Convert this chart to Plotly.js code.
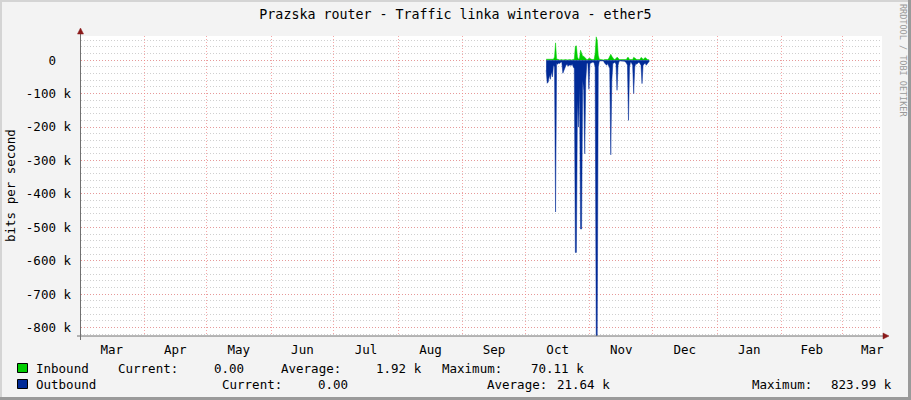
<!DOCTYPE html>
<html>
<head>
<meta charset="utf-8">
<script src="https://cdn.plot.ly/plotly-3.0.1.min.js"></script>
<style>
  html, body { margin: 0; padding: 0; background: #f3f3f3; }
  #chart { width: 911px; height: 400px; }
</style>
</head>
<body>
<div id="chart"></div>
<script>
// ---------------------------------------------------------------------------
// Data (kbit/s), one sample every 12 h starting 2019-10-11 00:00
// ---------------------------------------------------------------------------
const sampleStart = Date.UTC(2019, 9, 11, 0, 0);
const sampleStepMs = 12 * 3600 * 1000;

const inbound = [
  3, 3, 4, 3, 2, 3, 2, 3, 10, 52,
  4, 2, 2, 1, 2, 2, 1, 2, 2, 2,
  1, 2, 2, 2, 1, 2, 2, 3, 42, 43,
  10, 3, 5, 30, 22, 12, 12, 8, 3, 2,
  2, 6, 5, 2, 2, 2, 2, 20, 70.11, 60,
  15, 3, 2, 2, 2, 1, 2, 2, 2, 2,
  5, 15, 18, 12, 5, 3, 2, 6, 9, 7,
  2, 2, 2, 1, 2, 2, 2, 2, 8, 8,
  2, 2, 2, 2, 9, 6, 2, 2, 2, 2,
  2, 8, 7, 2, 4, 8, 6, 2, 2, 1,
];

const outbound = [
  -30, -69, -65, -45, -57, -35, -50, -15, -20, -454,
  -10, -12, -8, -10, -6, -5, -39, -30, -20, -15,
  -12, -18, -15, -14, -16, -12, -20, -25, -575, -575,
  -120, -200, -80, -505, -505, -60, -90, -280, -60, -10,
  -8, -87, -10, -8, -6, -5, -8, -20, -823.99, -823.99,
  -20, -3, -2, -2, -2, -2, -8, -12, -15, -10,
  -18, -25, -283, -60, -10, -8, -6, -12, -90, -15,
  -3, -2, -2, -2, -2, -3, -5, -8, -15, -180,
  -20, -5, -8, -15, -100, -20, -10, -12, -8, -6,
  -10, -15, -70, -15, -12, -8, -15, -10, -6, -3,
];

const yTickVals = [0, -100, -200, -300, -400, -500, -600, -700, -800];
const yTickText = ["0\u00a0\u00a0", "-100 k", "-200 k", "-300 k", "-400 k",
                   "-500 k", "-600 k", "-700 k", "-800 k"];

const seriesNames = ["Inbound", "Outbound"];
const seriesColors = ["#00cc00", "#002a97"];
const legendRows = [
  [["Current:", 116], ["0.00", 212], ["Average:", 279], ["1.92 k", 374],
   ["Maximum:", 440], ["70.11 k", 529]],
  [["Current:", 220], ["0.00", 316], ["Average:", 485], ["21.64 k", 555],
   ["Maximum:", 750], ["823.99 k", 829]],
];

// ---------------------------------------------------------------------------
// Layout helpers: plot area is 81..882 x 36..336 px
// ---------------------------------------------------------------------------
const PL = 81, PR = 882, PT = 36, PB = 336;
const px = (x) => (x - PL) / (PR - PL);
const py = (y) => (PB - y) / (PB - PT);

const FONT = "DejaVu Sans Mono, monospace";
const MAJOR_GRID = "rgba(240,130,130,0.7)";
const MINOR_GRID = "#cfcfcf";

const times = inbound.map((_, i) => sampleStart + i * sampleStepMs);

const traces = [
  {
    x: times,
    y: inbound,
    type: "scatter",
    mode: "lines",
    fill: "tozeroy",
    fillcolor: seriesColors[0],
    line: { color: seriesColors[0], width: 0.5 },
    name: seriesNames[0],
    hoverinfo: "skip",
  },
  {
    x: times,
    y: outbound,
    type: "scatter",
    mode: "lines",
    fill: "tozeroy",
    fillcolor: seriesColors[1],
    line: { color: seriesColors[1], width: 0.5 },
    name: seriesNames[1],
    hoverinfo: "skip",
  },
];

// annotations: legend text, axis title, watermark
const annotations = [];
const legendY = [368, 384];
seriesNames.forEach((name, r) => {
  annotations.push({
    xref: "paper", yref: "paper", x: px(34), y: py(legendY[r]),
    xanchor: "left", yanchor: "middle", showarrow: false,
    text: name, font: { family: FONT, size: 12.5, color: "#000" },
  });
  legendRows[r].forEach(([txt, x]) => {
    annotations.push({
      xref: "paper", yref: "paper", x: px(x), y: py(legendY[r]),
      xanchor: "left", yanchor: "middle", showarrow: false,
      text: txt, font: { family: FONT, size: 12.5, color: "#000" },
    });
  });
});
annotations.push({
  xref: "paper", yref: "paper", x: px(10), y: py(186),
  xanchor: "center", yanchor: "middle", showarrow: false, textangle: -90,
  text: "bits per second", font: { family: FONT, size: 12.5, color: "#000" },
});
annotations.push({
  xref: "paper", yref: "paper", x: px(903), y: py(60),
  xanchor: "center", yanchor: "middle", showarrow: false, textangle: 90,
  text: "RRDTOOL / TOBI OETIKER", font: { family: FONT, size: 8.5, color: "#999" },
});

// frame, axis lines with arrows, legend swatches
const shapes = [
  // image frame
  { type: "rect", xref: "paper", yref: "paper", x0: px(0), x1: px(911), y0: py(0), y1: py(2),
    fillcolor: "#d4d4d4", line: { width: 0 } },
  { type: "rect", xref: "paper", yref: "paper", x0: px(0), x1: px(2), y0: py(0), y1: py(400),
    fillcolor: "#d4d4d4", line: { width: 0 } },
  { type: "rect", xref: "paper", yref: "paper", x0: px(908), x1: px(911), y0: py(0), y1: py(400),
    fillcolor: "#9a9a9a", line: { width: 0 } },
  { type: "rect", xref: "paper", yref: "paper", x0: px(0), x1: px(911), y0: py(397), y1: py(400),
    fillcolor: "#9a9a9a", line: { width: 0 } },
  // axes
  { type: "line", xref: "paper", yref: "paper", x0: px(77), x1: px(886), y0: py(336), y1: py(336),
    line: { color: "#707070", width: 1 } },
  { type: "line", xref: "paper", yref: "paper", x0: px(80.5), x1: px(80.5), y0: py(340), y1: py(31),
    line: { color: "#707070", width: 1 } },
  { type: "path", xref: "paper", yref: "paper",
    path: `M ${px(883)} ${py(333)} L ${px(889)} ${py(336)} L ${px(883)} ${py(339)} Z`,
    fillcolor: "#8b1a1a", line: { color: "#8b1a1a", width: 0.5 } },
  { type: "path", xref: "paper", yref: "paper",
    path: `M ${px(77.5)} ${py(34)} L ${px(80.5)} ${py(28)} L ${px(83.5)} ${py(34)} Z`,
    fillcolor: "#8b1a1a", line: { color: "#8b1a1a", width: 0.5 } },
];
seriesColors.forEach((c, r) => {
  shapes.push({
    type: "rect", xref: "paper", yref: "paper",
    x0: px(17.5), x1: px(27.5), y0: py(legendY[r] - 4.5), y1: py(legendY[r] + 4.5),
    fillcolor: c, line: { color: "#000", width: 1 },
  });
});

const layout = {
  width: 911,
  height: 400,
  margin: { l: PL, r: 911 - PR, t: PT, b: 400 - PB, pad: 0 },
  paper_bgcolor: "#f3f3f3",
  plot_bgcolor: "#ffffff",
  showlegend: false,
  title: {
    text: "Prazska router - Traffic linka winterova - ether5",
    font: { family: FONT, size: 13.3, color: "#000" },
    x: 0.5, xref: "container", xanchor: "center",
    y: 1 - 14 / 400, yref: "container", yanchor: "middle",
  },
  xaxis: {
    type: "date",
    range: ["2019-03-01 18:00", "2020-03-20 04:00"],
    tick0: "2019-03-01",
    dtick: "M1",
    tickformat: "%b",
    ticklabelmode: "period",
    ticks: "",
    showgrid: true,
    gridcolor: MAJOR_GRID,
    griddash: "1px,2px",
    gridwidth: 1,
    showline: false,
    zeroline: false,
    ticklabelstandoff: 4,
    tickfont: { family: FONT, size: 12.5, color: "#000" },
    fixedrange: true,
  },
  yaxis: {
    range: [-825, 72.5],
    tickmode: "array",
    tickvals: yTickVals,
    ticktext: yTickText,
    ticks: "",
    showgrid: true,
    gridcolor: MAJOR_GRID,
    griddash: "1px,2px",
    gridwidth: 1,
    minor: {
      dtick: 20,
      tick0: 0,
      showgrid: true,
      gridcolor: MINOR_GRID,
      griddash: "1px,2px",
      gridwidth: 1,
      ticks: "",
    },
    showline: false,
    zeroline: false,
    ticklabelstandoff: 9,
    tickfont: { family: FONT, size: 12.5, color: "#000" },
    fixedrange: true,
  },
  annotations: annotations,
  shapes: shapes,
};

const config = { staticPlot: true, displayModeBar: false, responsive: false };

Plotly.newPlot("chart", traces, layout, config);
</script>
</body>
</html>
